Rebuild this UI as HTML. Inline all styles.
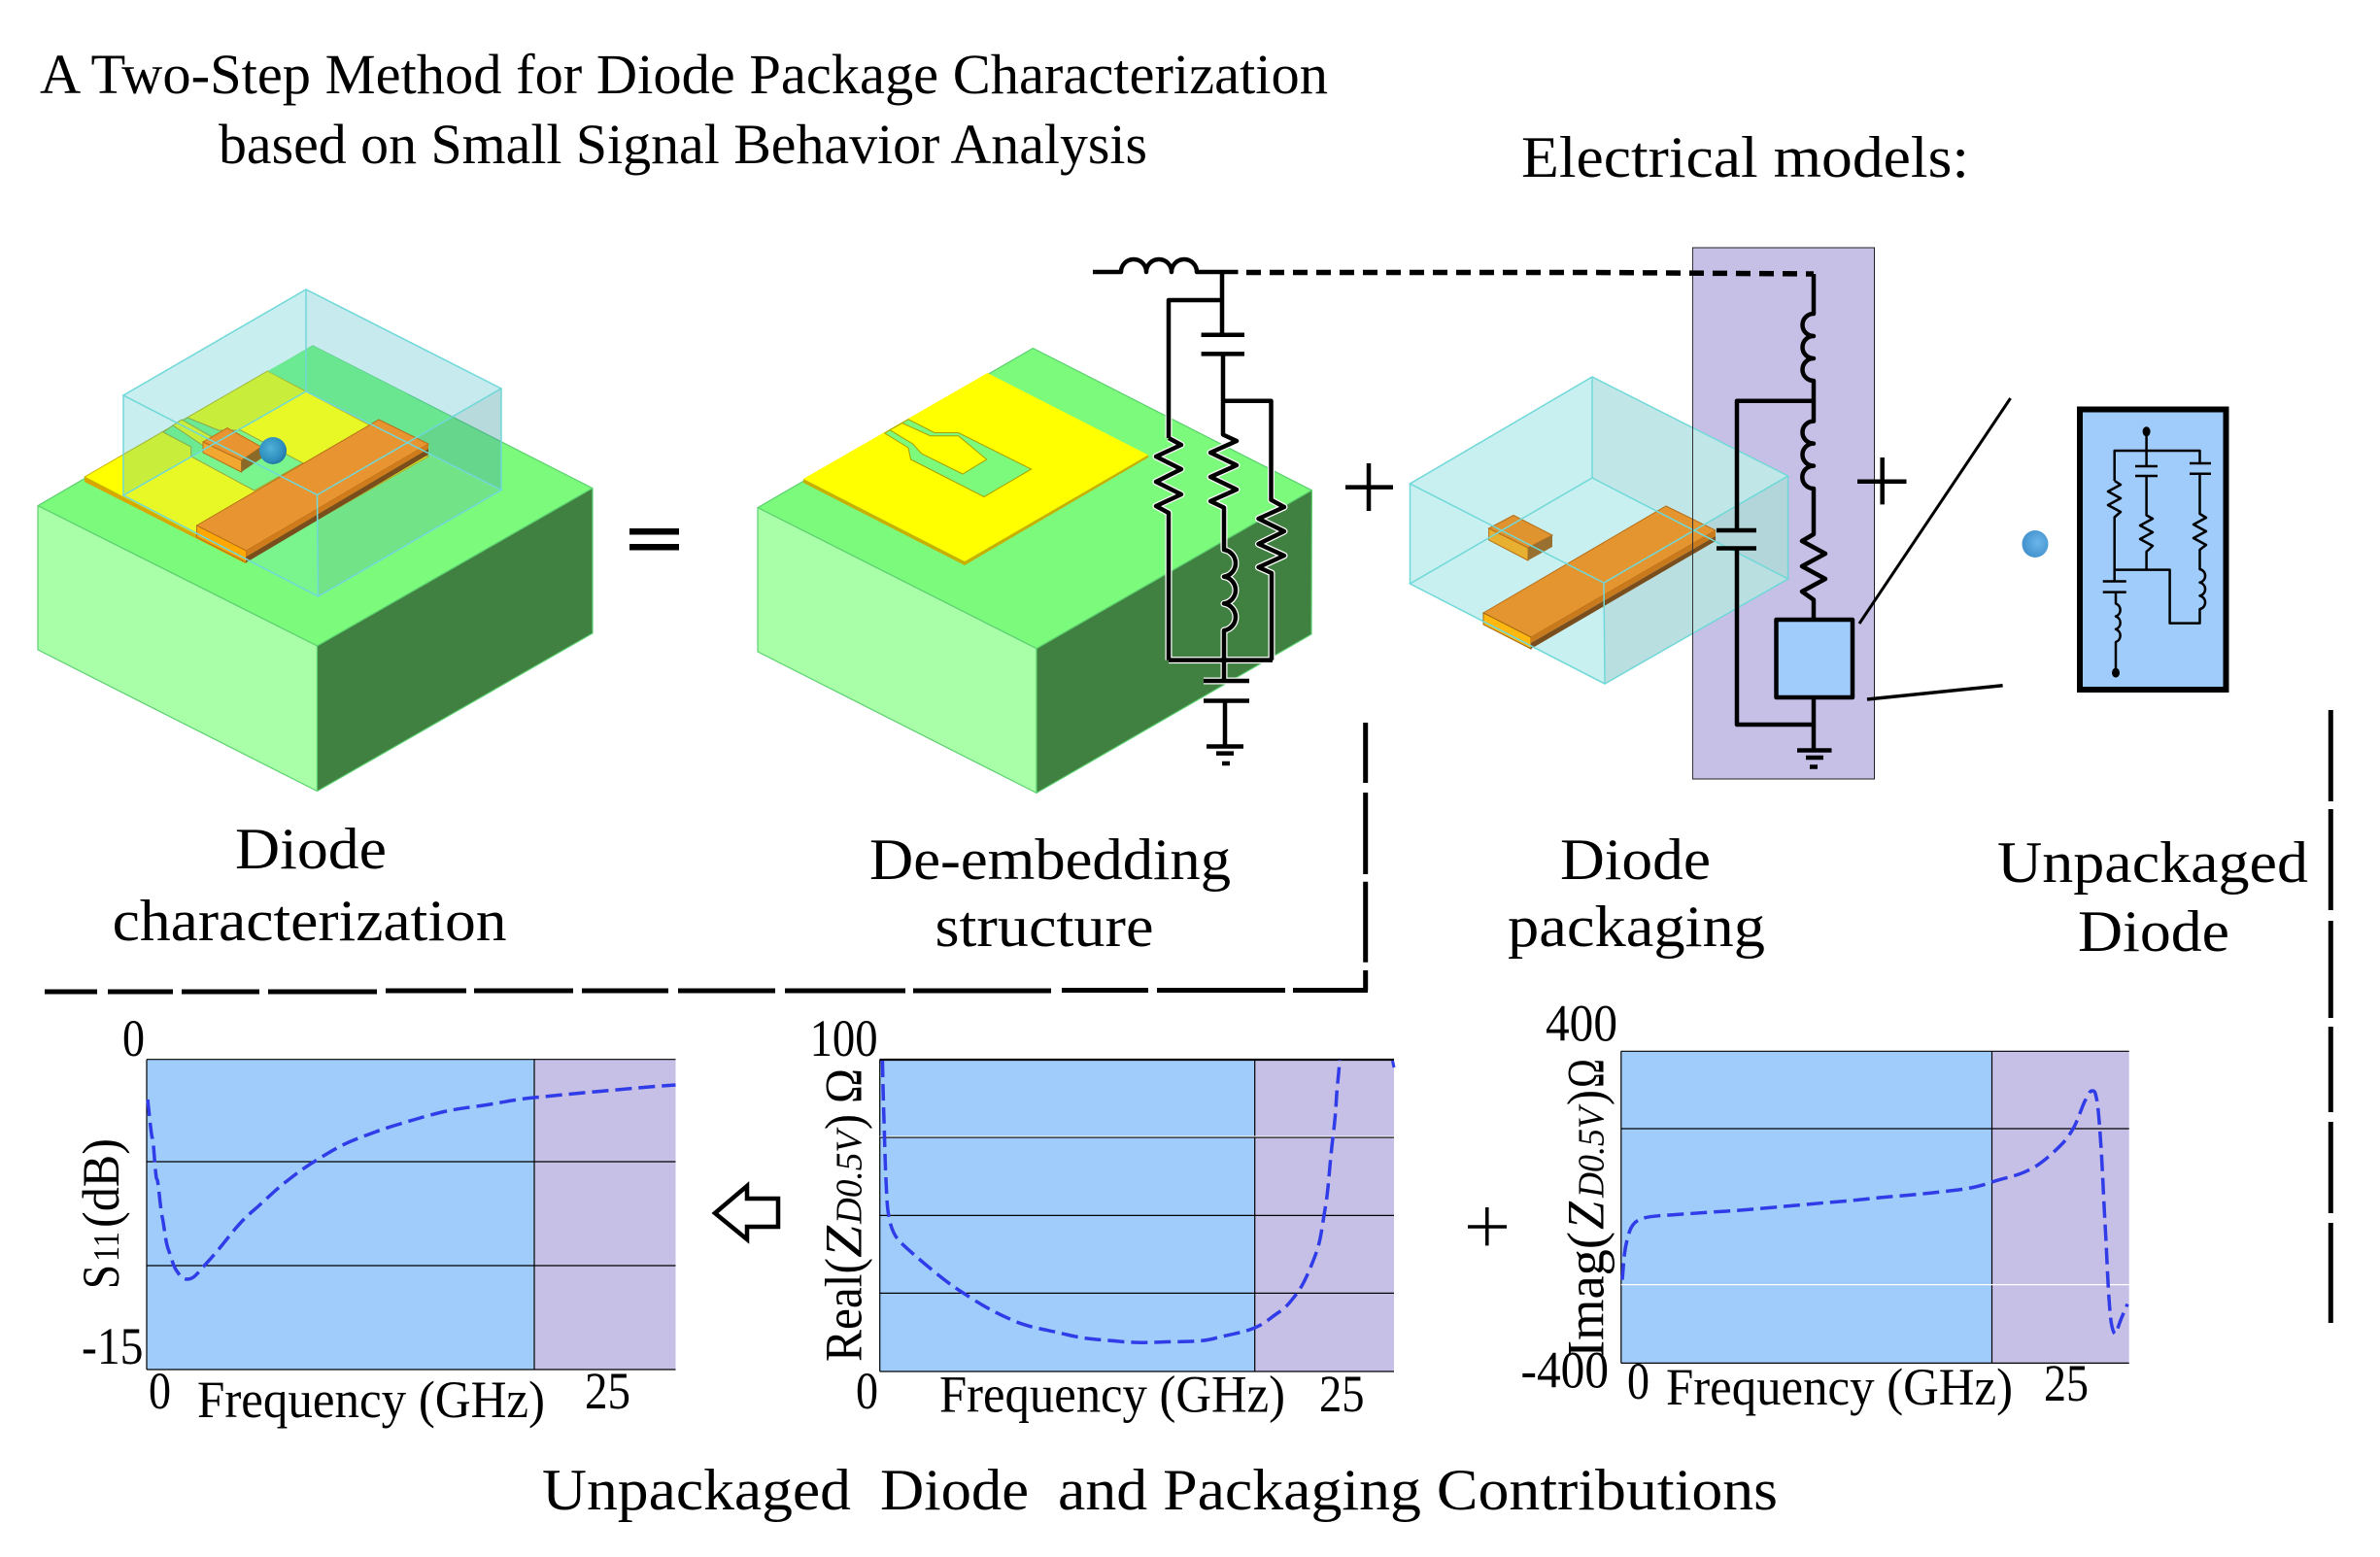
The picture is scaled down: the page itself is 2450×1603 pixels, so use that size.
<!DOCTYPE html>
<html><head><meta charset="utf-8"><style>
html,body{margin:0;padding:0;background:#fff;width:2450px;height:1603px;overflow:hidden}
svg{display:block}
text{font-family:"Liberation Serif",serif;fill:#000}
</style></head><body>
<svg width="2450" height="1603" viewBox="0 0 2450 1603" xmlns="http://www.w3.org/2000/svg">
<defs>
<radialGradient id="sph" cx="42%" cy="40%" r="65%"><stop offset="0" stop-color="#52B0D8"/><stop offset=".7" stop-color="#2E8FBE"/><stop offset="1" stop-color="#1F6F9E"/></radialGradient>
<radialGradient id="sph2" cx="60%" cy="45%" r="65%"><stop offset="0" stop-color="#6AB4E8"/><stop offset="1" stop-color="#3F8FCC"/></radialGradient>
</defs>
<rect width="2450" height="1603" fill="#fff"/>

<!-- Figure 1 -->
<g stroke="#5CD070" stroke-width="1.2" stroke-linejoin="round">
<polygon points="39,520.6 322,356 610,502.6 326.5,665" fill="#7CFA7C"/>
<polygon points="39,520.6 326.5,665 326.5,814.5 39,669" fill="#A8FFA8"/>
<polygon points="326.5,665 610,502.6 610,652 326.5,814.5" fill="#408040"/>
</g>
<polygon points="87,491 252.5,574 252.5,580 87,496" fill="#D8A800"/>
<polygon points="87,491 275.5,382 441,470 252.5,577" fill="#FFFF00" stroke="#C8B400" stroke-width="1"/>
<polygon points="193,430 225,443 248,443 311.7,476.7 261.7,505 196.7,470 196.7,460 168,445 178,438" fill="#7CFA7C" stroke="#A0A020" stroke-width="1"/>
<polygon points="178,438 187,432 215,448 240,460 228,472 205,456" fill="#FFFF00" stroke="#A0A020" stroke-width="1"/>
<polygon points="275.5,382 322,356 420,406 383,437" fill="#7CFA7C"/>
<!-- box 1 tints -->
<polygon points="315,298 127,407 127,510 315,403" fill="rgba(65,195,203,.29)"/>
<polygon points="315,298 516,400 516,504.5 315,403" fill="rgba(65,185,195,.3)"/>
<polygon points="315,403 127,510 327.5,614 516,504.5" fill="rgba(110,215,225,.17)"/>
<polygon points="326.5,509.5 516,400 516,504.5 327.5,614" fill="rgba(60,80,90,.10)"/>
<!-- chip -->
<polygon points="209,455 234,440.6 269,460 248.5,474" fill="#E89430" stroke="#B87018" stroke-width="1"/>
<polygon points="209,455 248.5,474 248.5,486 209,466" fill="#F2A830" stroke="#B87018" stroke-width="1"/>
<polygon points="248.5,474 269,460 269,472 248.5,486" fill="#8A6A28"/>
<!-- orange -->
<polygon points="202.5,541 390,432 441,457 253.5,567" fill="#E89430" stroke="#B87018" stroke-width="1"/>
<polygon points="202.5,541 253.5,567 253.5,579 202.5,553" fill="#FFA800" stroke="#B87018" stroke-width="1"/>
<polygon points="253.5,567 441,457 441,462 253.5,573" fill="#D07C1C"/>
<polygon points="253.5,573 441,462 441,468 253.5,579" fill="#7A4E1C"/>
<ellipse cx="281" cy="464" rx="14" ry="14" fill="url(#sph)"/>
<g fill="none" stroke="#70D8D8" stroke-width="1.5">
<polygon points="315,298 127,407 326.5,509.5 516,400"/>
<polygon points="315,403 127,510 327.5,614 516,504.5"/>
<path d="M315 298V403M127 407V510M326.5 509.5L327.5 614M516 400V504.5"/>
</g>

<!-- equals -->
<rect x="648" y="544" width="51" height="6.5"/><rect x="648" y="560" width="51" height="6.5"/>

<!-- Figure 2 -->
<g stroke="#5CD070" stroke-width="1.2" stroke-linejoin="round">
<polygon points="780,522.6 1063.4,358.5 1350.4,504.8 1067,667.7" fill="#7CFA7C"/>
<polygon points="780,522.6 1067,667.7 1067,816.4 780,671" fill="#A8FFA8"/>
<polygon points="1067,667.7 1350.4,504.8 1350,653 1067,816.4" fill="#408040"/>
</g>
<polygon points="827,493 993,578 993,582 827,497" fill="#C8B000"/>
<polygon points="993,578 1182,468.4 1182,471 993,582" fill="#C8B000"/>
<polygon points="827,493 1016.5,384 1182,468.4 993,578" fill="#FFFF00"/>
<polygon points="910.7,446 935,461 937.5,473 1013,511.5 1061.6,483 986.6,445.5 962,445.5 935,431.7 916,442.7" fill="#7CFA7C" stroke="#A8A000" stroke-width="1"/>
<polygon points="916,442.7 928.6,435.6 957.6,448.7 986.6,448.7 1015.6,473 991,488 948.6,467 939.7,457" fill="#FFFF00" stroke="#A8A000" stroke-width="1"/>

<!-- Circuit 1 -->
<defs>
<g id="c1" fill="none" stroke-linejoin="round">
<path d="M1125 280H1154a13 13 0 0 1 26 0a13 13 0 0 1 26 0a13 13 0 0 1 26 0H1274.5"/>
<path d="M1258 280V344.7M1258 309H1203V451M1203 451L1216 458L1190 470L1216 483L1190 496L1216 509L1190 521L1203 528V679.6"/>
<path d="M1236.6 344.7H1281M1236.6 364.4H1281"/>
<path d="M1259 364.4V447.5L1273 454L1246 466L1273 479L1246 491L1273 504L1246 516L1260 522.6V566a14 14 0 0 1 0 27.7a14 14 0 0 1 0 27.7a14 14 0 0 1 0 27.7V701"/>
<path d="M1259 412.7H1308.5V514.7L1322 522L1295.5 534L1322 547L1295.5 560L1322 572L1295.5 584L1309 590V679.6"/>
<path d="M1203 679.6H1310"/>
<path d="M1239 701H1286M1239 721.5H1286M1261 721.5V768.5M1242 768.5H1280M1252 775.6H1270"/>
<path d="M1258 786H1266"/>
</g>
</defs>
<use href="#c1" stroke="#fff" stroke-width="7"/>
<use href="#c1" stroke="#000" stroke-width="4.5"/>

<!-- plus 1 -->
<path d="M1385 501.6H1434M1409 477V526" stroke="#000" stroke-width="4.5" fill="none"/>

<!-- purple panel -->
<rect x="1742.5" y="255" width="187" height="547" fill="#C6BFE6" stroke="#222" stroke-width="1"/>

<!-- Figure 3 (package), opaque over the panel -->
<polygon points="1639,388 1451.5,498 1451.5,601 1652,704 1840.6,596 1840.6,490" fill="#C8F0F0"/>
<polygon points="1639,388 1840.6,490 1840.6,596 1639,492" fill="rgba(60,90,100,.06)"/>
<polygon points="1651,600 1840.6,490 1840.6,596 1652,704" fill="rgba(60,80,100,.10)"/>
<polygon points="1532.6,544 1558,530.5 1598,551 1573,564" fill="#DF9430" stroke="#B87018" stroke-width="1"/>
<polygon points="1532.6,544 1573,564 1573,577 1532.6,556" fill="#E8B030" stroke="#B87018" stroke-width="1"/>
<polygon points="1573,564 1598,551 1598,563 1573,577" fill="#987030"/>
<polygon points="1527,631 1715,521 1766,546 1576,656" fill="#E59530" stroke="#B87018" stroke-width="1"/>
<polygon points="1527,631 1576,656 1576,668 1527,643" fill="#FFB810" stroke="#A06810" stroke-width="1"/>
<polygon points="1576,656 1766,546 1766,552 1576,662" fill="#C87A1C"/>
<polygon points="1576,662 1766,552 1766,557 1576,668" fill="#7A4E1C"/>
<g fill="none" stroke="#70D8D8" stroke-width="1.5">
<polygon points="1639,388 1451.5,498 1651,600 1840.6,490"/>
<polygon points="1639,492 1451.5,601 1652,704 1840.6,596"/>
<path d="M1639 388V492M1451.5 498V601M1651 600L1652 704M1840.6 490V596"/>
</g>
<path d="M1742.5 255V802" stroke="#333" stroke-width="1" fill="none"/>

<path d="M1283 280.5H1640L1867 282" fill="none" stroke="#000" stroke-width="5.5" stroke-dasharray="15 9"/>

<!-- Circuit 2 -->
<g fill="none" stroke="#000" stroke-width="4.5" stroke-linejoin="round">
<path d="M1867 282V323a11.5 11.5 0 0 0 0 23a11.5 11.5 0 0 0 0 23a11.5 11.5 0 0 0 0 23V433.6a11.5 11.5 0 0 0 0 23a11.5 11.5 0 0 0 0 23a11.5 11.5 0 0 0 0 23.4V550L1855 557L1879 570L1855 583L1879 596L1855 609L1867 617.5V638"/>
<path d="M1867 412.7H1788V546M1767 546H1808M1767 564.5H1808M1788 564.5V746H1867"/>
<rect x="1828.5" y="638" width="78.5" height="80" fill="#9FCCFB" stroke-width="4.5"/>
<path d="M1867 718V772.5M1850 772.5H1885.5M1859 780H1877M1863 789.5H1871"/>
</g>

<!-- plus 2 -->
<path d="M1912 495.7H1962.5M1937.7 471V519.4" stroke="#000" stroke-width="4.5" fill="none"/>

<!-- zoom lines -->
<path d="M1914 642L2069.6 410" stroke="#000" stroke-width="3" fill="none"/>
<path d="M1922 720L2061.6 705.7" stroke="#000" stroke-width="3.5" fill="none"/>

<!-- sphere -->
<ellipse cx="2095" cy="560" rx="13.5" ry="14" fill="url(#sph2)"/>

<!-- inset -->
<rect x="2141" y="421.5" width="150.5" height="288.5" fill="#9FCCFB" stroke="#000" stroke-width="6"/>
<g fill="none" stroke="#000" stroke-width="2.5" stroke-linejoin="round">
<path d="M2209.6 444V480M2198 480H2221M2198 490H2221"/>
<path d="M2176.7 495V464H2264.5V477M2254 477H2276M2254 487.8H2276"/>
<path d="M2176.7 495L2183 499L2170 506L2183 513L2170 520L2183 527L2176.7 532.5V598.5"/>
<path d="M2209.6 490V530.5L2216 534L2203 541L2216 548L2203 555L2216 562L2209.6 568V586.6"/>
<path d="M2264.5 487.8V529L2271 533L2258 540L2271 547L2258 554L2271 561L2264.5 566V586a7 7 0 0 1 0 13.7a7 7 0 0 1 0 13.7a7 7 0 0 1 0 13.7V641.6H2233.6V586.6H2176.7"/>
<path d="M2164.7 598.5H2188.8M2164.7 609.6H2188.8"/>
<path d="M2178 609.6V621.4a7 7 0 0 1 0 13.2a7 7 0 0 1 0 13.2a7 7 0 0 1 0 13.2V692"/>
</g>
<ellipse cx="2209.6" cy="444.3" rx="4" ry="5"/>
<ellipse cx="2178" cy="692.6" rx="4" ry="5"/>

<!-- long dashes -->
<g stroke="#000" stroke-width="5" fill="none">
<path d="M46 1021H100M111 1021H178M187 1021H267M276 1021H388M397 1020H480M488 1020H590M599 1020H688M698 1020H798M808 1020H932M940 1020H1082M1093 1019.5H1182M1191 1019.5H1323M1331 1019.5H1408"/>
<path d="M1405.7 744V806M1405.7 816V900M1405.7 907.7V990.7M1405.7 999V1020"/>
<path d="M2399.3 731V825M2399.3 833V937M2399.3 948V1048M2399.3 1057V1145M2399.3 1155V1249M2399.3 1259V1362"/>
</g>

<!-- Chart 1 -->
<rect x="151" y="1090.7" width="399" height="319.3" fill="#9FCCFB"/>
<rect x="550" y="1090.7" width="145.5" height="319.3" fill="#C6BFE6"/>
<g stroke="#000" stroke-width="1.2" fill="none">
<path d="M151 1090.7H695.5M151 1196H695.5M151 1303H695.5M151 1410H695.5M550 1090.7V1410M151 1090.7V1410"/>
</g>
<path d="M152 1132C154 1150 156 1172 157 1172S160 1214 161.5 1214S165 1245 167 1253S170 1278 173.5 1287S178 1303 181.6 1308S187 1317 192.4 1317S201 1314 206 1308S218 1295 227.7 1283S247 1258 260 1247S280 1228 292.7 1218S312 1203 325 1195S350 1179 368.6 1172S395 1162 412 1157S438 1149 455 1145S485 1140 504 1137S530 1132 550 1130S590 1126 612.6 1124S665 1119 695.5 1117" fill="none" stroke="#2F3CE8" stroke-width="3.5" stroke-dasharray="17 7"/>

<!-- Chart 2 -->
<rect x="905.7" y="1090.7" width="386" height="321.3" fill="#9FCCFB"/>
<rect x="1291.7" y="1090.7" width="143.3" height="321.3" fill="#C6BFE6"/>
<g stroke="#000" stroke-width="1.2" fill="none">
<path d="M905.7 1171H1435M905.7 1251.4H1435M905.7 1331.4H1435M905.7 1412H1435M1291.7 1090.7V1412M905.7 1090.7V1412"/>
</g>
<path d="M905.7 1091H1435" stroke="#000" stroke-width="2.2" fill="none"/>
<path d="M905.7 1170H1435" stroke="#fff" stroke-width="1" fill="none"/>
<path d="M908.4 1092C909 1120 909.5 1140 910 1153S911 1195 912 1214S913 1242 915 1252.6S920 1272 927 1279S948 1298 962.6 1310S985 1327 1000.6 1337S1028 1353 1044 1360S1078 1369 1098 1374S1132 1379 1152 1381S1185 1382 1201 1381.5S1235 1382 1250 1378S1280 1372 1291.7 1367S1306 1358 1315 1352S1327 1342 1334 1333S1346 1313 1353 1295S1360 1268 1364 1245S1368 1205 1372 1172S1375 1135 1377 1115S1378.5 1098 1379 1091" fill="none" stroke="#2F3CE8" stroke-width="3.5" stroke-dasharray="17 7"/>
<path d="M1433.5 1092L1435 1099" stroke="#2F3CE8" stroke-width="3" fill="none"/>

<!-- Chart 3 -->
<rect x="1668.8" y="1082.3" width="381.7" height="321.1" fill="#9FCCFB"/>
<rect x="2050.5" y="1082.3" width="141.2" height="321.1" fill="#C6BFE6"/>
<g stroke="#000" stroke-width="1.2" fill="none">
<path d="M1668.8 1082.3H2191.7M1668.8 1162H2191.7M1668.8 1403.4H2191.7M2050.5 1082.3V1403.4M1668.8 1082.3V1403.4"/>
</g>
<path d="M1668.8 1322.6H2191.7" stroke="#fff" stroke-width="1.2" fill="none"/>
<path d="M1670 1317.6C1671 1305 1671.5 1298 1672.3 1291S1675 1275 1677.4 1268S1683 1257 1690.6 1254.5S1710 1251.5 1722 1250.7S1760 1248 1779.6 1246.8S1820 1243.5 1837 1242S1875 1238.5 1894.4 1237S1932 1233 1952 1231.5S1990 1228 2009 1225.8S2038 1221.5 2050.5 1217S2072 1212 2084 1206.7S2102 1197 2112.5 1187.5S2126 1175 2132.6 1164.6S2143 1139 2147 1132S2151 1123 2154 1123S2157 1126 2158.4 1132S2161.5 1160 2163 1183.7S2165.5 1235 2167 1260S2169.5 1315 2171 1336.8S2173.5 1366 2175.7 1371S2178.5 1372 2181.4 1363.6S2187 1350 2190 1342.5" fill="none" stroke="#2F3CE8" stroke-width="3.5" stroke-dasharray="17 7"/>

<!-- arrow -->
<polygon points="736,1249 769,1221 769,1234 801,1234 801,1263 769,1263 769,1276" fill="#fff" stroke="#000" stroke-width="4.5"/>
<!-- plus 3 -->
<path d="M1511 1263H1551M1530.8 1243V1282.4" stroke="#000" stroke-width="3.5" fill="none"/>

<!-- Text -->
<g font-size="60">
<text x="41" y="96" textLength="1326" lengthAdjust="spacingAndGlyphs" font-size="58">A Two-Step Method for Diode Package Characterization</text>
<text x="225" y="168" textLength="956" lengthAdjust="spacingAndGlyphs" font-size="58">based on Small Signal Behavior Analysis</text>
<text x="1566" y="182" textLength="461" lengthAdjust="spacingAndGlyphs">Electrical models:</text>
<text x="242" y="894" textLength="156" lengthAdjust="spacingAndGlyphs">Diode</text>
<text x="115.6" y="968" textLength="406" lengthAdjust="spacingAndGlyphs">characterization</text>
<text x="895" y="905" textLength="372" lengthAdjust="spacingAndGlyphs">De-embedding</text>
<text x="962.5" y="974" textLength="225" lengthAdjust="spacingAndGlyphs">structure</text>
<text x="1606" y="905" textLength="155" lengthAdjust="spacingAndGlyphs">Diode</text>
<text x="1552" y="974" textLength="265" lengthAdjust="spacingAndGlyphs">packaging</text>
<text x="2056" y="908" textLength="320" lengthAdjust="spacingAndGlyphs">Unpackaged</text>
<text x="2139" y="979" textLength="156" lengthAdjust="spacingAndGlyphs">Diode</text>
<text x="558" y="1554" textLength="318" lengthAdjust="spacingAndGlyphs">Unpackaged</text>
<text x="906" y="1554" textLength="153" lengthAdjust="spacingAndGlyphs">Diode</text>
<text x="1089" y="1554" textLength="741" lengthAdjust="spacingAndGlyphs">and Packaging Contributions</text>
</g>
<g font-size="54">
<text x="126" y="1087" textLength="23" lengthAdjust="spacingAndGlyphs">0</text>
<text x="84" y="1404" textLength="63.5" lengthAdjust="spacingAndGlyphs">-15</text>
<text x="153" y="1450" textLength="23" lengthAdjust="spacingAndGlyphs">0</text>
<text x="203" y="1459" textLength="358" lengthAdjust="spacingAndGlyphs">Frequency (GHz)</text>
<text x="602" y="1450" textLength="47" lengthAdjust="spacingAndGlyphs">25</text>
<text x="833.6" y="1087" textLength="70" lengthAdjust="spacingAndGlyphs">100</text>
<text x="881" y="1450" textLength="23" lengthAdjust="spacingAndGlyphs">0</text>
<text x="967" y="1453.5" textLength="356" lengthAdjust="spacingAndGlyphs">Frequency (GHz)</text>
<text x="1358" y="1453" textLength="46.5" lengthAdjust="spacingAndGlyphs">25</text>
<text x="1591" y="1071.6" textLength="74" lengthAdjust="spacingAndGlyphs">400</text>
<text x="1565.5" y="1428.6" textLength="90.5" lengthAdjust="spacingAndGlyphs">-400</text>
<text x="1675" y="1440" textLength="23" lengthAdjust="spacingAndGlyphs">0</text>
<text x="1715" y="1446" textLength="357" lengthAdjust="spacingAndGlyphs">Frequency (GHz)</text>
<text x="2104" y="1442" textLength="46" lengthAdjust="spacingAndGlyphs">25</text>
</g>
<!-- y labels -->
<g transform="translate(122,1327) rotate(-90)" font-size="54">
<text x="0" y="0" textLength="25" lengthAdjust="spacingAndGlyphs">S</text>
<text x="28" y="0" font-size="38" textLength="31" lengthAdjust="spacingAndGlyphs">11</text>
<text x="63" y="0" textLength="92" lengthAdjust="spacingAndGlyphs">(dB)</text>
</g>
<g transform="translate(886.7,1402) rotate(-90)" font-size="54">
<text x="0" y="0" textLength="107" lengthAdjust="spacingAndGlyphs">Real(</text>
<text x="107" y="0" font-style="italic" textLength="33" lengthAdjust="spacingAndGlyphs">Z</text>
<text x="142" y="0" font-style="italic" font-size="38" textLength="96" lengthAdjust="spacingAndGlyphs">D0.5V</text>
<text x="239" y="0" textLength="16" lengthAdjust="spacingAndGlyphs">)</text>
<text x="266" y="0" textLength="36" lengthAdjust="spacingAndGlyphs">Ω</text>
</g>
<g transform="translate(1650.5,1398) rotate(-90)" font-size="54">
<text x="0" y="0" textLength="130" lengthAdjust="spacingAndGlyphs">Imag(</text>
<text x="132" y="0" font-style="italic" textLength="29" lengthAdjust="spacingAndGlyphs">Z</text>
<text x="165" y="0" font-style="italic" font-size="38" textLength="93" lengthAdjust="spacingAndGlyphs">D0.5V</text>
<text x="260" y="0" textLength="16" lengthAdjust="spacingAndGlyphs">)</text>
<text x="278" y="0" textLength="30" lengthAdjust="spacingAndGlyphs">Ω</text>
</g>
</svg>
</body></html>
